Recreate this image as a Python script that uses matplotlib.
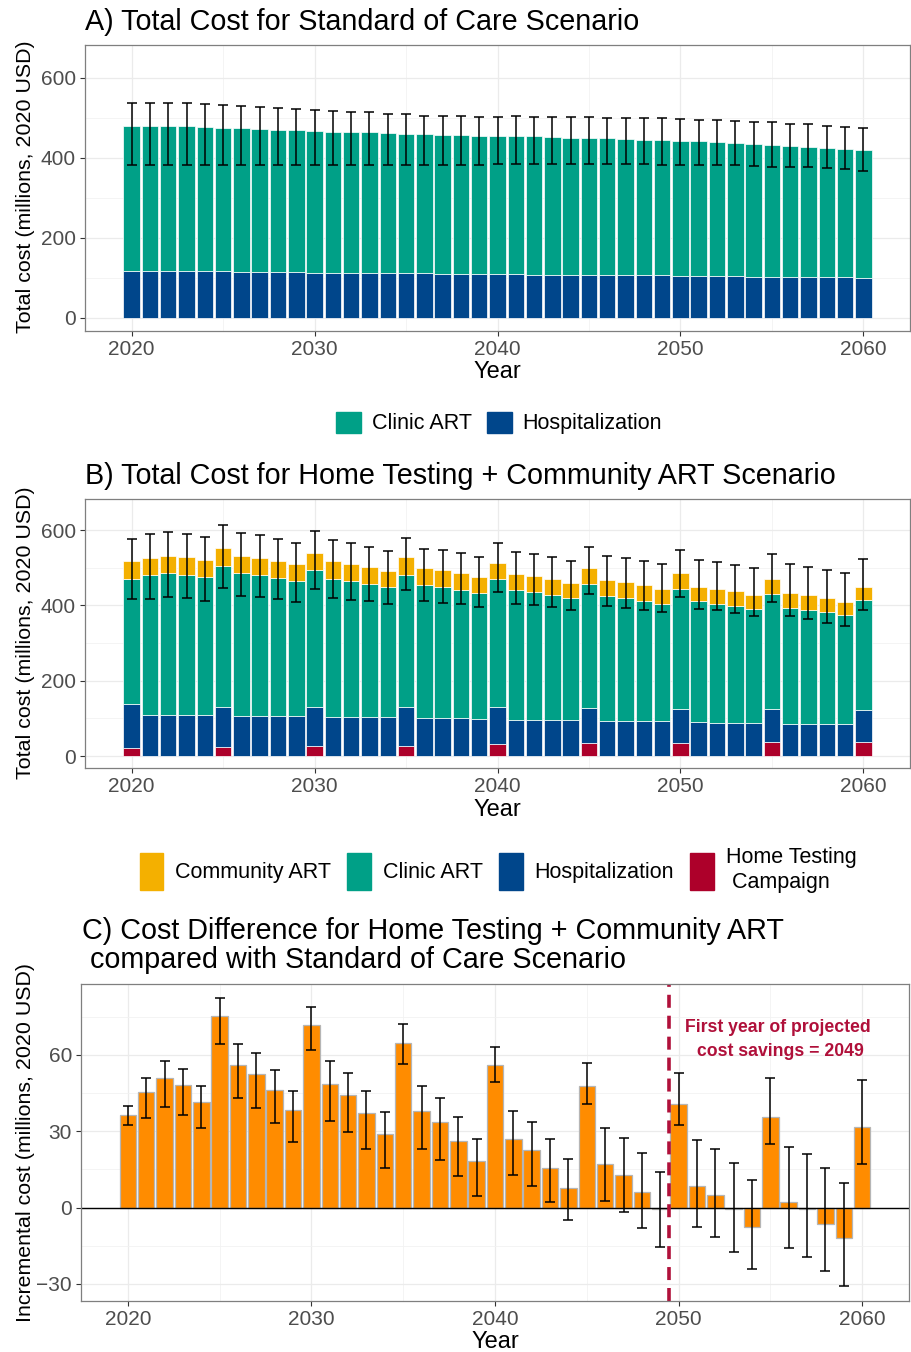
import numpy as np
import matplotlib
matplotlib.use("Agg")
import matplotlib.pyplot as plt
from matplotlib.patches import Patch
from matplotlib.ticker import MultipleLocator

plt.rcParams['font.family'] = ['Liberation Sans', 'DejaVu Sans']

# ================= Data =================
years = list(range(2020, 2061))

# A) Standard of care
soc_total = [480, 480, 480, 479, 478, 476, 475, 473, 471, 470,
             468, 466, 465, 464, 463, 461, 460, 458, 457, 456,
             456, 455, 454, 452, 451, 450, 449, 447, 446, 445,
             443, 441, 440, 437, 434, 432, 430, 427, 425, 422, 420]
soc_hosp = [117, 117, 117, 116, 116, 116, 115, 115, 114, 114,
            113, 113, 112, 112, 112, 111, 111, 110, 110, 110,
            109, 109, 108, 108, 108, 107, 107, 106, 106, 106,
            105, 105, 104, 104, 103, 103, 102, 102, 101, 101, 100]
soc_hi = [538, 538, 538, 537, 535, 532, 530, 527, 525, 522,
          520, 517, 515, 514, 511, 509, 506, 505, 504, 503,
          503, 504, 503, 502, 502, 502, 501, 500, 500, 499,
          497, 496, 494, 492, 491, 489, 486, 484, 481, 478, 474]
soc_lo = [381, 382, 382, 382, 383, 383, 383, 383, 383, 383,
          383, 383, 383, 383, 383, 383, 383, 383, 383, 383,
          384, 384, 384, 384, 384, 384, 384, 384, 384, 383,
          383, 382, 382, 381, 380, 378, 377, 376, 374, 373, 368]

# B) Home testing + community ART (stack components)
ht_home = [21, 0, 0, 0, 0, 24, 0, 0, 0, 0,
           26, 0, 0, 0, 0, 28, 0, 0, 0, 0,
           32, 0, 0, 0, 0, 34, 0, 0, 0, 0,
           35, 0, 0, 0, 0, 37, 0, 0, 0, 0, 38]
ht_hosp = [116, 110, 110, 109, 109, 107, 107, 106, 106, 106,
           105, 103, 103, 103, 103, 102, 100, 100, 100, 99,
           97, 97, 97, 96, 96, 93, 94, 94, 94, 93,
           90, 90, 89, 89, 88, 87, 86, 86, 85, 85, 83]
ht_clinic = [332, 370, 375, 373, 366, 374, 378, 374, 366, 358,
             364, 368, 362, 354, 346, 352, 354, 349, 342, 335,
             342, 343, 338, 331, 324, 330, 331, 326, 318, 312,
             319, 321, 316, 309, 302, 306, 308, 303, 297, 289, 294]
ht_comm = [48, 45, 46, 46, 45, 47, 46, 45, 46, 45,
           45, 46, 46, 45, 43, 46, 45, 44, 43, 42,
           42, 43, 43, 42, 40, 42, 42, 41, 41, 39,
           41, 39, 39, 39, 38, 39, 39, 38, 37, 36, 35]
ht_hi = [575, 590, 594, 590, 581, 613, 593, 587, 576, 566,
         597, 573, 566, 555, 544, 578, 551, 546, 538, 529,
         565, 541, 536, 528, 519, 555, 531, 526, 519, 510,
         547, 521, 516, 508, 499, 537, 509, 503, 495, 486, 523]
ht_lo = [416, 417, 421, 420, 413, 446, 426, 421, 417, 410,
         444, 420, 415, 411, 403, 441, 412, 407, 403, 396,
         435, 404, 400, 396, 389, 430, 398, 394, 389, 382,
         423, 391, 388, 380, 371, 408, 371, 364, 354, 346, 389]

# C) Incremental cost
diff = [36.5, 45.3, 51.0, 48.0, 41.7, 75.3, 56.2, 52.6, 46.2, 38.4,
        71.7, 48.4, 44.2, 37.2, 29.1, 64.8, 38.1, 33.5, 26.3, 18.2,
        56.1, 27.1, 22.7, 15.7, 7.8, 47.9, 17.0, 12.8, 6.3, -0.5,
        40.7, 8.5, 4.8, -0.5, -7.6, 35.5, 2.2, -0.7, -6.3, -12.1, 31.8]
diff_hi = [39.8, 51.0, 57.6, 54.4, 47.8, 82.2, 64.4, 60.9, 54.1, 45.9,
           78.7, 57.5, 53.1, 46.0, 37.6, 72.0, 47.9, 43.2, 35.7, 27.1,
           63.3, 37.8, 33.7, 27.0, 19.2, 56.9, 31.2, 27.5, 21.3, 13.9,
           52.8, 26.5, 23.1, 17.6, 10.9, 50.9, 23.7, 20.9, 15.5, 9.6, 50.2]
diff_lo = [32.3, 35.2, 39.4, 36.5, 31.4, 64.4, 43.0, 39.3, 33.1, 25.8,
           62.0, 33.9, 29.6, 22.9, 15.4, 56.6, 23.1, 18.6, 12.3, 4.5,
           49.3, 12.8, 8.5, 2.2, -5.0, 40.8, 2.5, -1.8, -8.2, -15.4,
           32.3, -7.8, -11.7, -17.4, -24.1, 25.1, -16.0, -19.6, -24.8, -30.9, 17.3]

# ================= Style =================
col_comm = '#F4B000'
col_clinic = '#00A087'
col_hosp = '#00468B'
col_home = '#AD002A'
col_diff = '#FF8C00'
col_line = '#B0103A'

W, H = 911, 1352
fig = plt.figure(figsize=(W / 100, H / 100), dpi=100)


def add_ax(l, t, r, b):
    return fig.add_axes([l / W, 1 - b / H, (r - l) / W, (b - t) / H])


def style(ax):
    ax.set_axisbelow(True)
    for s in ax.spines.values():
        s.set_color('#7F7F7F')
        s.set_linewidth(0.9)
    ax.set_xlim(2017.45, 2062.55)
    ax.xaxis.set_major_locator(MultipleLocator(10))
    ax.xaxis.set_minor_locator(MultipleLocator(5))
    ax.grid(True, which='major', color='#EBEBEB', lw=0.9)
    ax.grid(True, which='minor', color='#F2F2F2', lw=0.6)
    ax.tick_params(which='major', direction='out', length=3.5, width=0.8,
                   color='#333333', labelcolor='#4D4D4D', labelsize=15, pad=3)
    ax.tick_params(which='minor', length=0)


def ftext(x, y, s, **kw):
    fig.text(x / W, 1 - y / H, s, **kw)


years = np.array(years)
title_fs = 20.7
lab_fs = 15.4
year_fs = 17

# ================= Panel A =================
axA = add_ax(85, 45, 910, 330.7)
style(axA)
soc_clinic = np.array(soc_total) - np.array(soc_hosp)
axA.bar(years, soc_hosp, width=0.9, color=col_hosp, edgecolor='white', lw=0.5)
axA.bar(years, soc_clinic, bottom=soc_hosp, width=0.9, color=col_clinic,
        edgecolor='white', lw=0.5)
tot = np.array(soc_total)
axA.errorbar(years, tot, yerr=[tot - np.array(soc_lo), np.array(soc_hi) - tot],
             fmt='none', ecolor='black', elinewidth=1.1, capsize=3.8, capthick=1.1)
axA.set_ylim(-32.5, 682.5)
axA.yaxis.set_major_locator(MultipleLocator(200))
axA.yaxis.set_minor_locator(MultipleLocator(100))

ftext(85, 30, 'A) Total Cost for Standard of Care Scenario', fontsize=title_fs,
      ha='left', va='baseline')
ftext(26, 187, 'Total cost (millions, 2020 USD)', fontsize=lab_fs, rotation=90,
      ha='center', va='center')
ftext(497, 372, 'Year', fontsize=year_fs, ha='center', va='center')
fig.legend(handles=[Patch(color=col_clinic, label='Clinic ART'),
                    Patch(color=col_hosp, label='Hospitalization')],
           loc='center', bbox_to_anchor=(499 / W, 1 - 423 / H), ncol=2,
           frameon=False, fontsize=15.5, handlelength=1.15, handleheight=1.15,
           handletextpad=0.5, columnspacing=0.7)

# ================= Panel B =================
axB = add_ax(85, 499, 910, 768.3)
style(axB)
b1 = np.array(ht_home)
b2 = b1 + np.array(ht_hosp)
b3 = b2 + np.array(ht_clinic)
b4 = b3 + np.array(ht_comm)
axB.bar(years, ht_home, width=0.9, color=col_home, edgecolor='white', lw=0.5)
axB.bar(years, ht_hosp, bottom=b1, width=0.9, color=col_hosp, edgecolor='white', lw=0.5)
axB.bar(years, ht_clinic, bottom=b2, width=0.9, color=col_clinic, edgecolor='white', lw=0.5)
axB.bar(years, ht_comm, bottom=b3, width=0.9, color=col_comm, edgecolor='white', lw=0.5)
axB.errorbar(years, b4, yerr=[b4 - np.array(ht_lo), np.array(ht_hi) - b4],
             fmt='none', ecolor='black', elinewidth=1.1, capsize=3.8, capthick=1.1)
axB.set_ylim(-32.5, 682.5)
axB.yaxis.set_major_locator(MultipleLocator(200))
axB.yaxis.set_minor_locator(MultipleLocator(100))

ftext(85, 484, 'B) Total Cost for Home Testing + Community ART Scenario',
      fontsize=title_fs, ha='left', va='baseline')
ftext(26, 633, 'Total cost (millions, 2020 USD)', fontsize=lab_fs, rotation=90,
      ha='center', va='center')
ftext(497, 810, 'Year', fontsize=year_fs, ha='center', va='center')
fig.legend(handles=[Patch(color=col_comm, label='Community ART'),
                    Patch(color=col_clinic, label='Clinic ART'),
                    Patch(color=col_hosp, label='Hospitalization'),
                    Patch(color=col_home, label='Home Testing\n Campaign')],
           loc='center', bbox_to_anchor=(498 / W, 1 - 870 / H), ncol=4,
           frameon=False, fontsize=15.5, handlelength=1.1, handleheight=2.3,
           handletextpad=0.55, columnspacing=0.75, labelspacing=0.2)

# ================= Panel C =================
axC = add_ax(81, 984, 909, 1300.7)
style(axC)
axC.bar(years, diff, width=0.9, color=col_diff, edgecolor='#B5B5B5', lw=0.9)
d = np.array(diff)
axC.errorbar(years, d, yerr=[d - np.array(diff_lo), np.array(diff_hi) - d],
             fmt='none', ecolor='black', elinewidth=1.1, capsize=3.8, capthick=1.1)
axC.axhline(0, color='black', lw=1.0)
axC.axvline(2049.5, color=col_line, lw=2.6, ls=(0, (3.6, 2.2)))
axC.text(2055.4, 66.0, 'First year of projected\n cost savings = 2049',
         color=col_line, fontsize=12.7, fontweight='bold', ha='center',
         va='center', linespacing=1.5)
axC.set_ylim(-36.6, 87.9)
axC.yaxis.set_major_locator(MultipleLocator(30))
axC.yaxis.set_minor_locator(MultipleLocator(15))

ftext(82, 968, 'C) Cost Difference for Home Testing + Community ART\n'
      ' compared with Standard of Care Scenario', fontsize=title_fs, ha='left',
      va='baseline', linespacing=1.05)
ftext(26, 1143, 'Incremental cost (millions, 2020 USD)', fontsize=lab_fs,
      rotation=90, ha='center', va='center')
ftext(495, 1342, 'Year', fontsize=year_fs, ha='center', va='center')

fig.savefig('out.png', dpi=100, facecolor='white')
